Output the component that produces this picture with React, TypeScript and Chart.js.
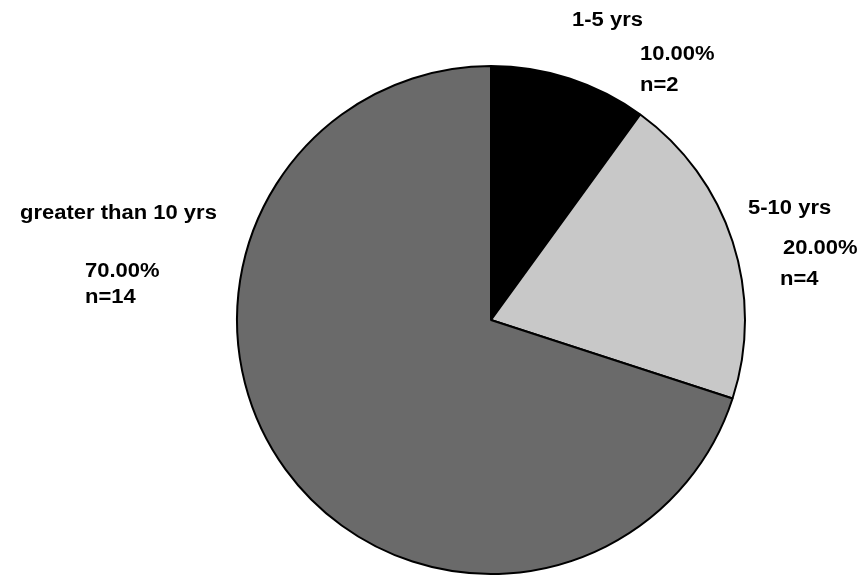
import React, { useEffect, useRef } from "react";
import { Chart, registerables } from "chart.js";

Chart.register(...registerables);

// ---- data ----
const categories = ["1-5 yrs", "5-10 yrs", "greater than 10 yrs"];
const percentages = [10, 20, 70];
const percentLabels = ["10.00%", "20.00%", "70.00%"];
const countLabels = ["n=2", "n=4", "n=14"];

// ---- styles / layout ----
const sliceColors = ["#000000", "#c8c8c8", "#6a6a6a"];
const FONT = "bold 20px 'Liberation Sans', Arial, sans-serif";
const TEXT_STRETCH = 1.1;
// label offsets relative to pie centre: [dx, dy] for name, percent, count
const labelLayout = [
  { name: [81, -294], pct: [149, -260], cnt: [149, -229] },
  { name: [257, -106], pct: [292, -66], cnt: [289, -35] },
  { name: [-471, -101], pct: [-406, -43], cnt: [-406, -17] },
];

const labelPlugin = {
  id: "sliceLabels",
  afterDraw(chart: any) {
    const ctx = chart.ctx;
    const meta = chart.getDatasetMeta(0);
    const draw = (t: string, x: number, y: number) => {
      ctx.save();
      ctx.translate(x, y);
      ctx.scale(TEXT_STRETCH, 1);
      ctx.fillText(t, 0, 0);
      ctx.restore();
    };
    ctx.save();
    ctx.font = FONT;
    ctx.fillStyle = "#000";
    ctx.textAlign = "left";
    ctx.textBaseline = "alphabetic";
    meta.data.forEach((arc: any, i: number) => {
      const L = labelLayout[i];
      draw(categories[i], arc.x + L.name[0], arc.y + L.name[1]);
      draw(percentLabels[i], arc.x + L.pct[0], arc.y + L.pct[1]);
      draw(countLabels[i], arc.x + L.cnt[0], arc.y + L.cnt[1]);
    });
    ctx.restore();
  },
};

export default function App() {
  const ref = useRef<HTMLCanvasElement>(null);
  useEffect(() => {
    document.body.style.margin = "0";
    const chart = new Chart(ref.current!, {
      type: "pie",
      data: {
        labels: categories,
        datasets: [
          {
            data: percentages,
            backgroundColor: sliceColors,
            borderColor: "#000",
            borderWidth: 2,
          },
        ],
      },
      options: {
        animation: false,
        responsive: false,
        layout: { padding: { left: 236, right: 111, top: 65, bottom: 3 } },
        plugins: { legend: { display: false }, tooltip: { enabled: false } },
      },
      plugins: [labelPlugin],
    });
    return () => chart.destroy();
  }, []);
  return (
    <div style={{ width: 857, height: 578, background: "#fff" }}>
      <canvas ref={ref} width={857} height={578} />
    </div>
  );
}
